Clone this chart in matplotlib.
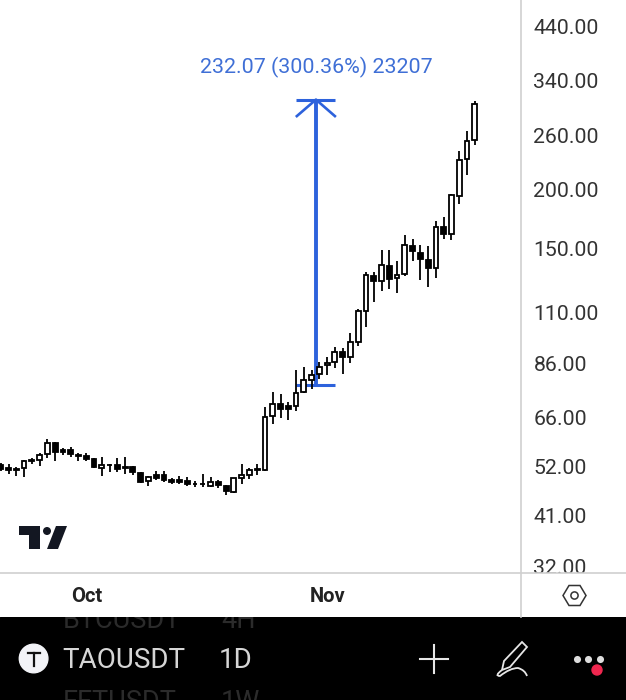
import matplotlib
matplotlib.use('Agg')
import matplotlib.pyplot as plt
from matplotlib.patches import Polygon, Circle, PathPatch
from matplotlib.path import Path
import numpy as np

plt.rcParams['font.family'] = ['Roboto', 'DejaVu Sans']

# daily candles, day 0 = 1 Oct
opens = [52.6, 51.65, 51.5, 51.75, 53.6, 53.8, 55.45, 58.4, 56.45, 56.45, 55.2, 54.85, 54.15,
         51.75, 52.4, 52.6, 52.05, 52.05, 50.55, 48.6, 50.1, 50.1, 48.8, 48.7, 48.65, 47.9, 47.95,
         47.4, 48.3, 47.45, 46.05, 49.3, 50.1, 51.25, 51.15,
         66.6, 70.7, 69.8, 69.95, 74.65, 79.45, 81.5, 85.2, 86.6, 90.8, 88.7, 95.6, 110.6, 131.4,
         128.2, 137.9, 130.0,
         132.6, 152.2, 147.1, 142.0, 136.3, 166.3, 161.0, 194.0, 231.3, 253.8]
highs = [52.9, 52.65, 51.9, 53.8, 54.4, 55.55, 59.5, 58.6, 57.0, 57.3, 55.7, 55.7, 54.4,
         54.45, 52.65, 54.25, 54.65, 52.15, 50.7, 49.7, 51.1, 51.1, 49.35, 49.85, 49.5, 48.65, 50.2,
         49.45, 48.7, 47.6, 49.35, 52.75, 51.75, 52.65, 69.7,
         74.7, 74.2, 71.4, 83.1, 84.5, 83.4, 86.5, 88.85, 93.0, 92.8, 99.7, 111.7, 134.2, 134.2,
         148.8, 148.8, 141.2,
         160.0, 157.2, 152.6, 151.9, 171.5, 175.0, 195.9, 241.6, 265.2, 307.1]
lows = [51.1, 50.25, 49.85, 49.45, 52.75, 52.25, 54.25, 53.55, 55.1, 54.55, 53.55, 53.6, 51.8,
        49.85, 50.8, 50.8, 50.3, 50.1, 48.2, 47.4, 48.7, 48.4, 47.8, 47.85, 47.45, 47.1, 47.1,
        47.1, 46.95, 45.3, 45.9, 47.8, 49.0, 50.0, 51.0,
        64.1, 65.8, 65.35, 68.25, 74.5, 76.1, 79.7, 81.1, 83.9, 81.5, 86.0, 93.6, 102.8, 116.0,
        122.3, 123.3, 121.0,
        131.6, 141.2, 128.9, 124.7, 130.4, 156.9, 156.4, 186.3, 214.8, 247.9]
closes = [51.4, 51.3, 51.25, 53.55, 53.8, 55.1, 58.3, 55.9, 55.9, 55.3, 54.75, 54.15, 52.0,
          52.4, 52.6, 51.4, 51.65, 50.7, 48.4, 49.5, 49.2, 48.8, 48.3, 48.4, 47.9, 47.8, 47.8,
          48.4, 47.55, 46.2, 49.2, 49.95, 51.3, 51.55, 66.4,
          70.5, 69.05, 69.05, 74.5, 79.2, 81.3, 84.5, 86.3, 90.8, 88.85, 95.2, 110.6, 131.9, 128.0,
          138.4, 129.7, 131.9,
          152.5, 148.0, 142.4, 136.3, 166.3, 161.0, 194.9, 230.2, 253.4, 302.8]
days = np.arange(-11, -11 + len(opens))

price_ticks = [440, 340, 260, 200, 150, 110, 86, 66, 52, 41, 32]
month_ticks = [0, 31]
month_labels = ['Oct', 'Nov']

range_start = 77.26
range_end = 309.33
range_label = '232.07 (300.36%) 23207'

W, H = 626, 700
blue = '#2d62dc'
grid = '#cfcfcf'
x0, x1 = -11.1, 55.95

fig = plt.figure(figsize=(W / 100, H / 100), dpi=100, facecolor='white')
ax = fig.add_axes([0, (H - 573) / H, 521 / W, 573 / H])
ax.set_yscale('log')
ax.set_xlim(x0, x1)
ax.set_ylim(31.08, 501.6)
for s in ax.spines.values():
    s.set_visible(False)

# candles
for d, o, h, l, c in zip(days, opens, highs, lows, closes):
    ax.vlines(d, l, h, color='black', lw=1.3, zorder=2)
    face = 'white' if c >= o else 'black'
    ax.bar(d, abs(c - o), bottom=min(o, c), width=0.62, facecolor=face, edgecolor='black', lw=1.3, zorder=3)

# price range tool
mid = 29.56
ax.plot([mid, mid], [range_start, range_end], color=blue, lw=2.8, solid_capstyle='butt', zorder=1)
ax.plot([27, 32], [range_start, range_start], color=blue, lw=2.2, solid_capstyle='butt', zorder=1)
ax.plot([27, 32], [range_end, range_end], color=blue, lw=2.2, solid_capstyle='butt', zorder=4)
ax.plot([27.1, mid, 32], [285.5, range_end, 285.5], color=blue, lw=1.9, zorder=4)
ax.text(mid, 362, range_label, color='#3f6fd6', fontsize=15.4, ha='center', va='center')

ax.yaxis.tick_right()
ax.set_yticks(price_ticks)
ax.set_yticklabels(['%.2f' % p for p in price_ticks], fontsize=15.3, color='#333333')
ax.minorticks_off()
ax.tick_params(axis='y', length=0, pad=9)
ax.set_xticks([])

# time axis strip
strip = fig.add_axes([0, (H - 617) / H, 1, 44 / H], zorder=2)
strip.set_xlim(x0, x0 + (x1 - x0) * W / 521)
strip.set_ylim(617, 573)
strip.set_facecolor('white')
for s in strip.spines.values():
    s.set_visible(False)
strip.set_xticks(month_ticks)
strip.set_xticklabels(month_labels, fontsize=14.5, fontweight='bold', color='#222222')
strip.xaxis.tick_top()
strip.tick_params(axis='x', length=0, direction='in', pad=-24)
strip.set_yticks([])

# footer + chrome, drawn in pixel coords
foot = fig.add_axes([0, 0, 1, 83 / H], zorder=3)
foot.set_xlim(0, W)
foot.set_ylim(700, 617)
foot.axis('off')
foot.add_patch(plt.Rectangle((0, 617), W, 83, color='black', zorder=0))
foot.text(63, 620, 'BTCUSDT', color='#2b2b2b', fontsize=19.5, va='center', clip_on=True)
foot.text(221, 620, '4H', color='#2b2b2b', fontsize=19.5, va='center', clip_on=True)
foot.text(63, 702, 'FFTUSDT', color='#2b2b2b', fontsize=19.5, va='center', clip_on=True)
foot.text(221, 702, '1W', color='#2b2b2b', fontsize=19.5, va='center', clip_on=True)
foot.add_patch(Circle((33.6, 658.5), 14.3, color='#f2f3f7'))
foot.plot([28, 40], [652.5, 652.5], color='#111111', lw=1.6)
foot.plot([34, 34], [652.5, 665.5], color='#111111', lw=1.6)
foot.text(62, 660, 'TAOUSDT', color='#d6d6d6', fontsize=20, va='center')
foot.text(219, 660, '1D', color='#d6d6d6', fontsize=20, va='center')
foot.plot([420, 448], [659, 659], color='#e6e6e6', lw=1.5)
foot.plot([434, 434], [645, 673], color='#e6e6e6', lw=1.5)
foot.add_patch(Polygon([[522, 642], [527, 647], [510, 667], [502, 670], [504, 661]],
                       closed=True, fill=False, ec='#e6e6e6', lw=1.3))
foot.add_patch(PathPatch(Path([(502, 670), (494, 676), (500, 676), (510, 668), (518, 668), (525, 670), (527, 676)],
                              [Path.MOVETO] + [Path.CURVE3] * 6),
                         fill=False, ec='#e6e6e6', lw=1.3))
foot.scatter([577, 588.4, 600], [659, 659, 659], s=26, color='#dddddd', lw=0)
foot.add_patch(Circle((597, 670), 5, color='#f0274f'))

over = fig.add_axes([0, 0, 1, 1], zorder=4)
over.set_xlim(0, W)
over.set_ylim(H, 0)
over.axis('off')
over.plot([521, 521], [0, 617], color=grid, lw=1.2)
over.plot([0, W], [573, 573], color=grid, lw=1.2)
# logo
logo = '#131722'
over.add_patch(Polygon([[19, 526], [40, 526], [40, 549], [29, 549], [29, 535], [19, 535]], color=logo, lw=0))
over.add_patch(Circle((47, 531), 4, color=logo, lw=0))
over.add_patch(Polygon([[56, 526], [67, 526], [58, 549], [47, 549]], color=logo, lw=0))
# settings hexagon
over.add_patch(Polygon([[563, 595.5], [569, 585.5], [580, 585.5], [586, 595.5], [580, 605.5], [569, 605.5]],
                       closed=True, fill=False, ec='#333333', lw=1.1))
over.add_patch(Circle((574.5, 595.5), 3.6, fill=False, ec='#333333', lw=1.1))

fig.savefig('out.png', dpi=100)
